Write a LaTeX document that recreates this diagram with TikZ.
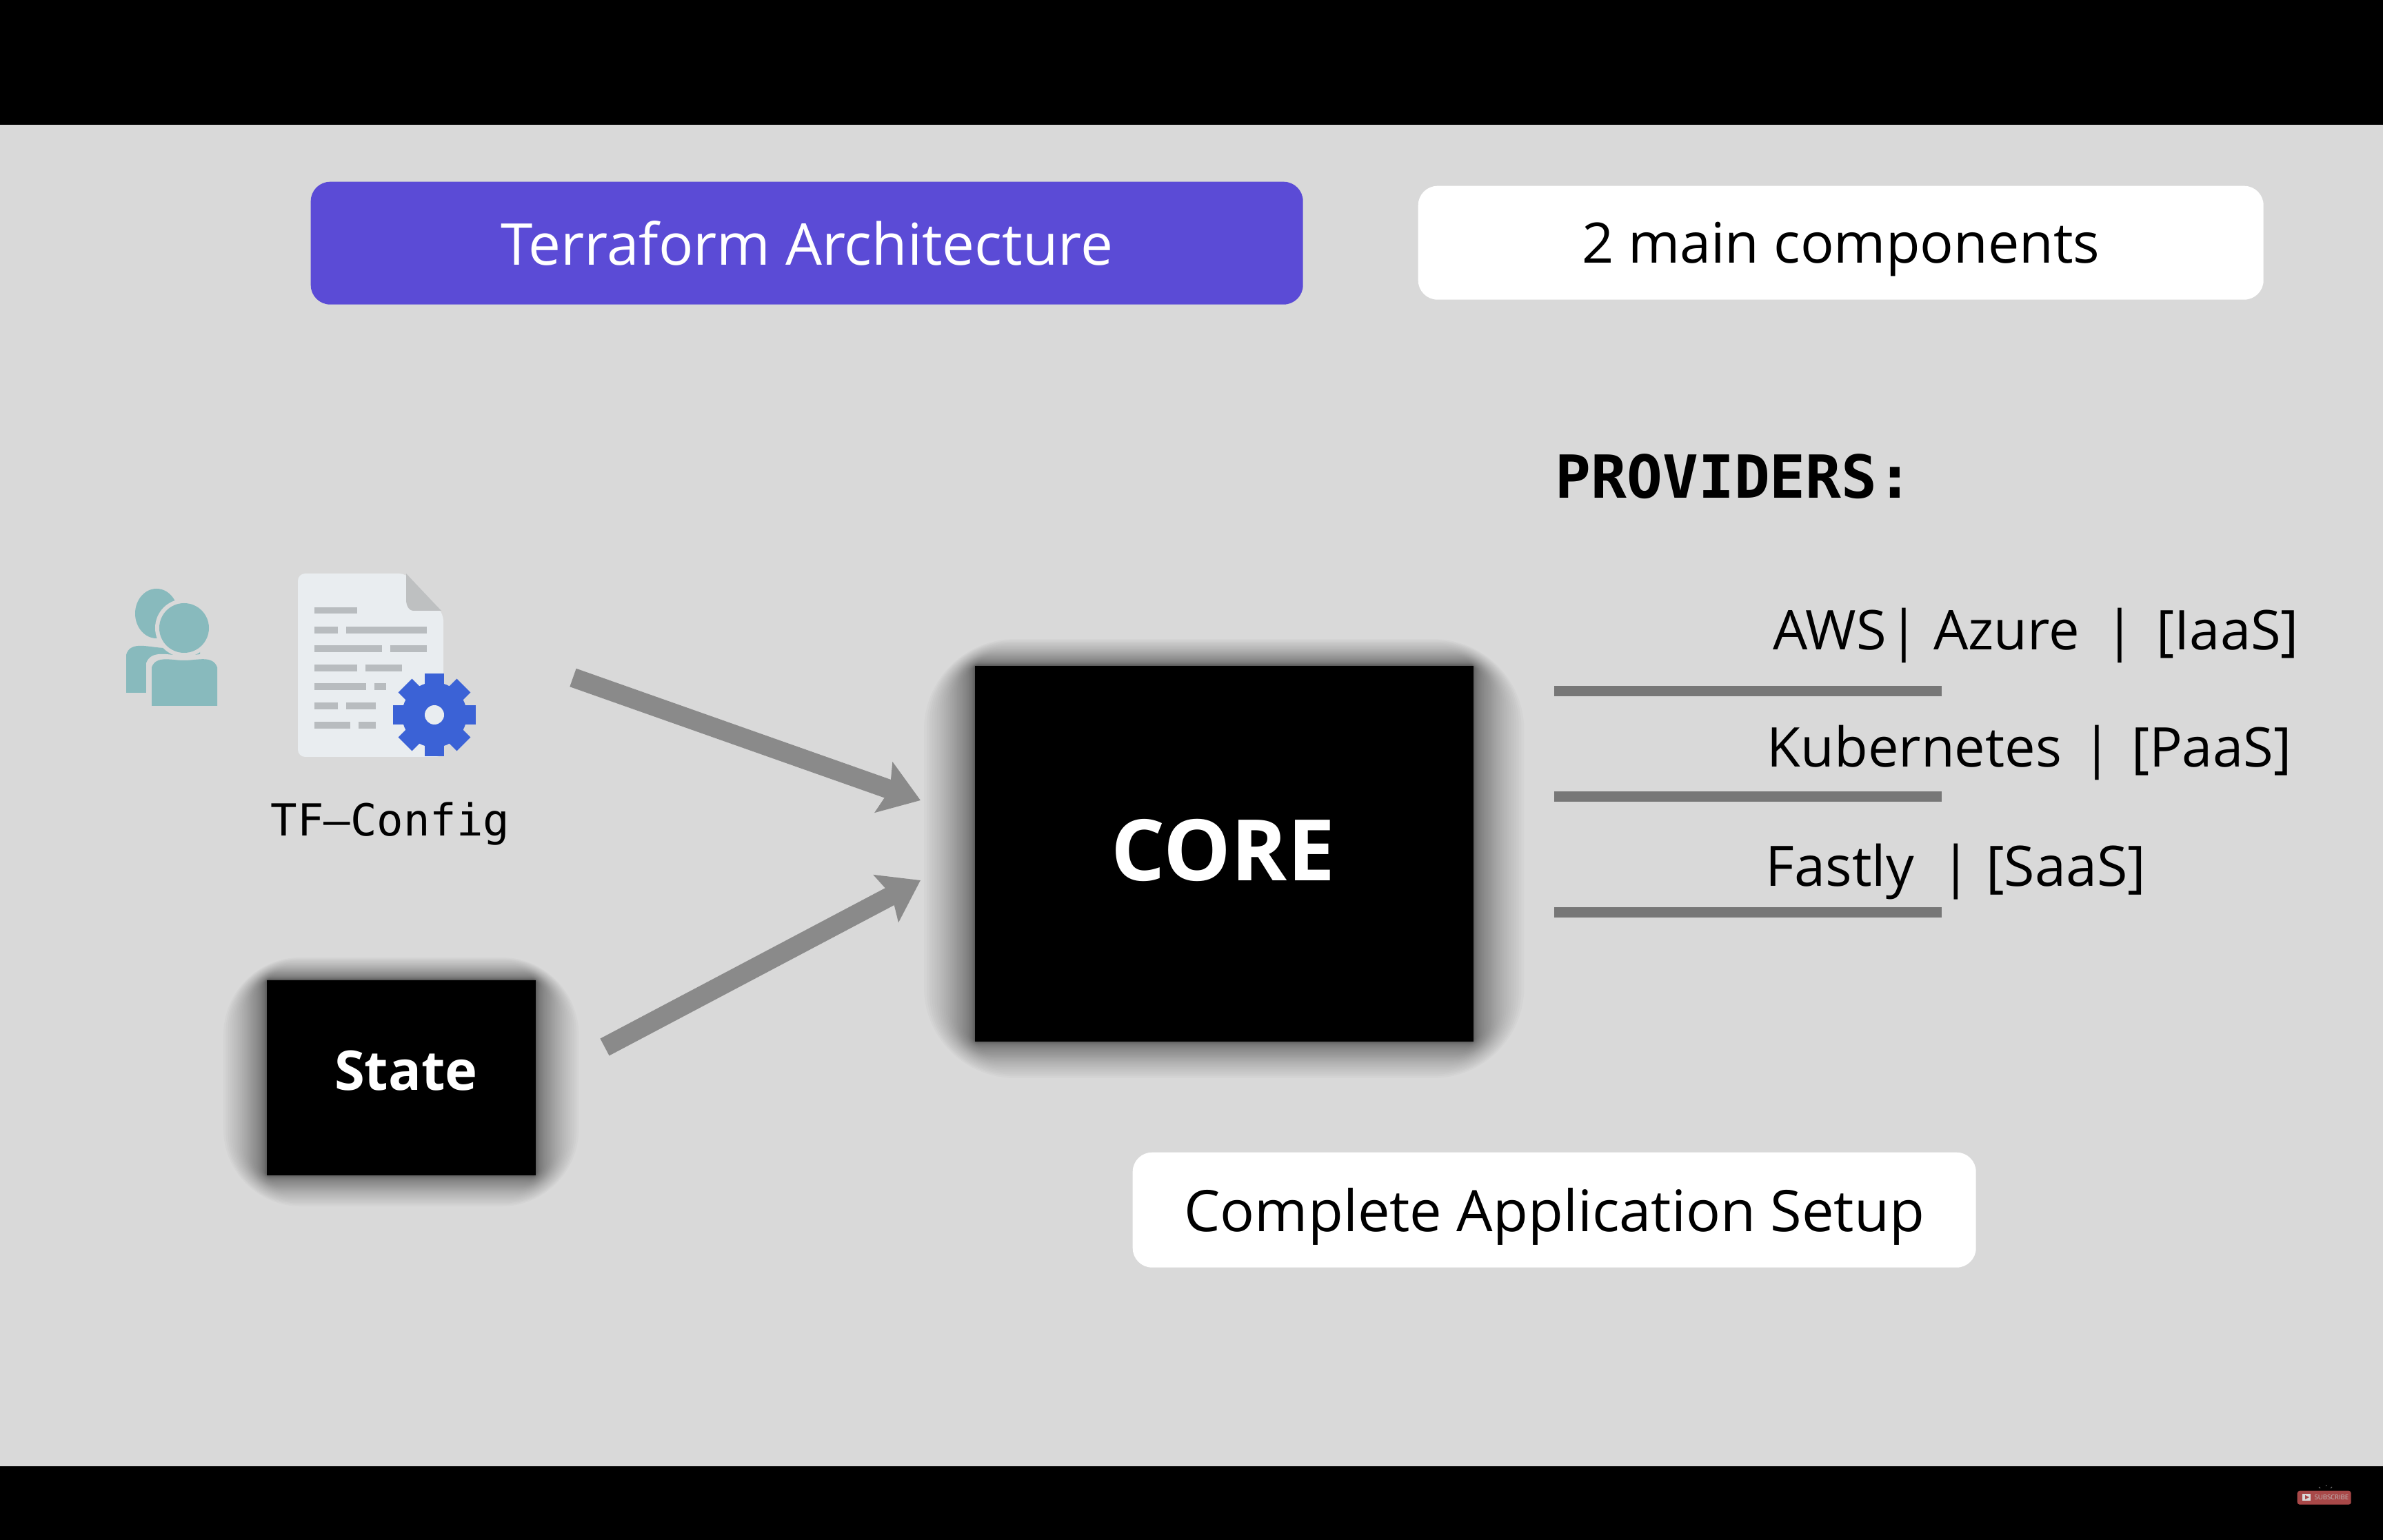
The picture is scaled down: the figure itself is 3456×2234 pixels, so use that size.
\documentclass[tikz,border=0pt]{standalone}
\usepackage{fontspec}
\setmainfont{Open Sans}
\setmonofont{DejaVu Sans Mono}
\usepackage{tikz}
\usetikzlibrary{calc,arrows.meta,backgrounds}
\definecolor{bgGrey}{HTML}{D9D9D9}
\definecolor{titleBlue}{HTML}{5B4BD6}
\definecolor{arrowGrey}{HTML}{8A8A8A}
\definecolor{ruleGrey}{HTML}{777777}
\definecolor{personTeal}{HTML}{88BABD}
\definecolor{docPaper}{HTML}{E9EDF0}
\definecolor{docFold}{HTML}{BEC0C1}
\definecolor{docLine}{HTML}{B8BCBF}
\definecolor{gearBlue}{HTML}{3B62D6}
\definecolor{subRed}{HTML}{A84848}
\tikzset{
	whitebox/.style={fill=white,rounded corners=8pt,text=black,text depth=0pt,font=\fontsize{23}{23}\selectfont},
	blackbox/.style={fill=black,inner sep=0pt},
	blacklabel/.style={text=white,inner sep=0pt},
	ruleline/.style={draw=ruleGrey,line width=15*0.01cm},
	feedarrow/.style={draw=arrowGrey,line width=0.28cm,-{Stealth[length=0.56cm,width=0.76cm,inset=0.09cm]}},
	providertext/.style={anchor=base west,inner sep=0pt,font=\fontsize{22.6}{22.6}\selectfont},
}
% soft dark glow round a box
\newcommand{\softglow}[2]{
	\begin{pgfonlayer}{background}
		\foreach \i in {1,...,36}{
			\pgfmathsetmacro{\r}{#2*73*(\i/36)^2}
			\fill[black,opacity=0.021,rounded corners=\r*0.5pt+1pt] ($(#1.south west)+(-\r,\r*0.62+\r*0.1)$) rectangle ($(#1.north east)+(\r,-\r*0.62+\r*0.1)$);
		}
	\end{pgfonlayer}
}
\begin{document}
\begin{tikzpicture}[x=0.01cm,y=-0.01cm]
	\useasboundingbox (0,0) rectangle (3456,2234);
	\begin{pgfonlayer}{background}
		\fill[bgGrey] (0,0) rectangle (3456,2234);
	\end{pgfonlayer}
	\fill[black] (0,0) rectangle (3456,181);
	\fill[black] (0,2127) rectangle (3456,2234);
	% heading boxes
	\node[anchor=north west,fill=titleBlue,rounded corners=8pt,minimum width=1439*0.01cm,minimum height=178*0.01cm,text=white,font=\fontsize{23.8}{23.8}\selectfont] (title) at (450,263) {Terraform Architecture};
	\node[whitebox,anchor=north west,minimum width=1226*0.01cm,minimum height=165*0.01cm] (parts) at (2056,269) {2 main components};
	\node[whitebox,anchor=north west,minimum width=1223*0.01cm,minimum height=167*0.01cm,font=\fontsize{23.6}{23.6}\selectfont] (setup) at (1642,1671) {Complete Application Setup};
	% black boxes
	\node[blackbox,anchor=north west,minimum width=723*0.01cm,minimum height=545*0.01cm] (core) at (1413,965) {};
	\node[blacklabel,font=\bfseries\fontsize{35}{35}\selectfont] (corelabel) at (1774,1233) {CORE};
	\node[blackbox,anchor=north west,minimum width=390*0.01cm,minimum height=283*0.01cm] (state) at (386,1421) {};
	\node[blacklabel,font=\bfseries\fontsize{22.6}{22.6}\selectfont] (statelabel) at (589,1553) {State};
	\softglow{core}{1}
	\softglow{state}{0.85}
	% person
	\fill[personTeal] (227,890) ellipse (31 and 36);
	\fill[personTeal] (183,1005) -- (183,950) to[out=75,in=180] (240,940) -- (290,940) -- (290,1005) -- cycle;
	\fill[bgGrey] (267,911) ellipse (42 and 42);
	\fill[personTeal] (267,911) ellipse (36 and 36);
	\fill[bgGrey] (212,1030) -- (212,962) to[out=70,in=180] (267,951) to[out=0,in=110] (325,962) -- (325,1030) -- cycle;
	\fill[personTeal] (220,1024) -- (220,968) to[out=70,in=180] (267,958) to[out=0,in=110] (315,968) -- (315,1024) -- cycle;
	% document
	\fill[docPaper,rounded corners=3pt] (432,832) -- (589,832) -- (643,890) -- (643,1098) -- (432,1098) -- cycle;
	\fill[docFold] (589,832) -- (640,886) -- (600,886) to[out=180,in=-90] (589,870) -- cycle;
	\foreach \y/\segs in {886/{456/518},914/{456/490,502/619},941/{456/554,566/619},969/{456/518,530/583},996/{456/531,543/560},1024/{456/490,502/545},1052/{456/508,520/545}}{
		\foreach \a/\b in \segs{
			\draw[docLine,line width=0.09cm] (\a,\y) -- (\b,\y);
		}
	}
	% gear
	\foreach \t in {0,45,...,135}{
		\fill[gearBlue,rotate around={\t:(630,1037)}] (616,977) rectangle (644,1097);
	}
	\fill[gearBlue] (630,1037) circle (47);
	\fill[docPaper] (630,1037) ellipse (14 and 14);
	\node[anchor=base,inner sep=0pt,font=\ttfamily\fontsize{18.2}{18.2}\selectfont] (config) at (566,1212) {TF–Config};
	% arrows
	\coordinate (cfgtail) at (831,983);
	\coordinate (cfgtip) at (1335,1161);
	\coordinate (statetail) at (877,1519);
	\coordinate (statetip) at (1335,1277);
	\draw[feedarrow] (cfgtail) -- (cfgtip);
	\draw[feedarrow] (statetail) -- (statetip);
	% providers
	\node[anchor=base west,inner sep=0pt,font=\ttfamily\bfseries\fontsize{24.5}{24.5}\selectfont] (providers) at (2255,723) {PROVIDERS:};
	\node[providertext] (rowone) at (2571,943) {AWS\hspace{-0.17cm} | Azure\hspace{-0.05cm} \ |\hspace{0.11cm} [IaaS]};
	\node[providertext] (rowtwo) at (2562,1113) {Kubernetes\hspace{0.09cm} |\hspace{0.07cm} [PaaS]};
	\node[providertext,font=\fontsize{23}{23}\selectfont] (rowthree) at (2560,1285) {Fastly\hspace{0.18cm} | [SaaS]};
	\foreach \n/\y in {a/1003,b/1156,c/1323}{
		\coordinate (rule\n l) at (2254,\y);
		\coordinate (rule\n r) at (2816,\y);
		\draw[ruleline] (rule\n l) -- (rule\n r);
	}
	% subscribe badge
	\node[anchor=north west,fill=subRed,rounded corners=1pt,minimum width=78*0.01cm,minimum height=20*0.01cm,inner sep=0pt] (badge) at (3331,2162) {};
	\node[anchor=west,inner sep=0pt,text=black!10!bgGrey,font=\fontsize{2.7}{3}\selectfont] (badgetext) at (3356,2172) {SUBSCRIBE};
	\fill[bgGrey] (3339,2167) rectangle (3351,2177);
	\fill[subRed] (3343,2169) -- (3349,2172) -- (3343,2175) -- cycle;
	\foreach \a/\b/\c/\d in {3363/2157/3365/2159,3373/2154/3373/2156,3382/2157/3380/2159}{
		\draw[bgGrey!60!black,line width=0.01cm] (\a,\b) -- (\c,\d);
	}
\end{tikzpicture}
\end{document}
